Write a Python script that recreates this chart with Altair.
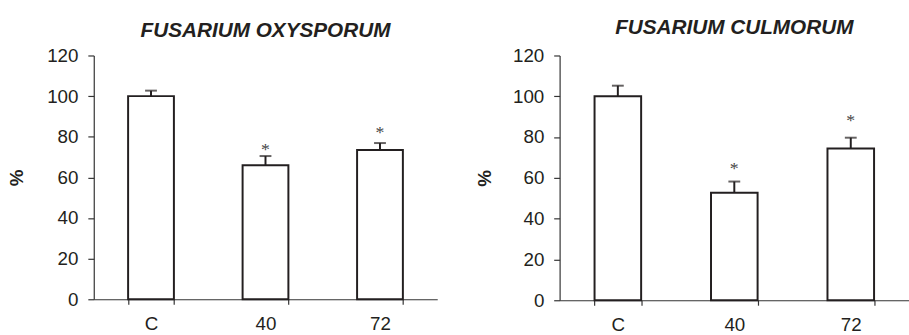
import altair as alt
import pandas as pd

categories = ["C", "40", "72"]

oxy_mean = [100, 66.0, 73.5]
oxy_err = [2.7, 4.5, 3.4]
oxy_star = ["", "*", "*"]
oxy_star_y = [0, 75.3, 83.6]

cul_mean = [100, 52.7, 74.4]
cul_err = [5.2, 5.5, 5.3]
cul_star = ["", "*", "*"]
cul_star_y = [0, 66.2, 89.6]

y_ticks = [0, 20, 40, 60, 80, 100, 120]

INK = "#231f20"
FONT = "Liberation Sans"


def make_df(mean, err, star, star_y):
    return pd.DataFrame({
        "cat": categories,
        "mean": mean,
        "top": [m + e for m, e in zip(mean, err)],
        "star": star,
        "star_y": star_y,
    })


def panel(title, df, width, height, title_pad, title_offset):
    xs = alt.X(
        "cat:N", sort=categories,
        scale=alt.Scale(paddingInner=0.6, paddingOuter=0.3),
        axis=alt.Axis(title=None, labelAngle=0, tickBand="extent", tickSize=5,
                      labelPadding=11, labelFontSize=19, labelFont=FONT,
                      labelColor=INK, domainColor="#333333", tickColor="#333333",
                      domainWidth=1.2, tickWidth=1.2),
    )
    ysc = alt.Scale(domain=[0, 120], nice=False)
    yax = alt.Axis(values=y_ticks, grid=False, title="%", titleFont=FONT,
                   titleFontSize=19, titleFontWeight="bold", titleColor=INK,
                   titlePadding=title_pad, labelFont=FONT, labelFontSize=19,
                   labelColor=INK, labelPadding=10, tickSize=6,
                   domainColor="#333333", tickColor="#333333",
                   domainWidth=1.2, tickWidth=1.2)
    base = alt.Chart(df)
    bars = base.mark_bar(fill="white", stroke=INK, strokeWidth=2).encode(
        x=xs, y=alt.Y("mean:Q", scale=ysc, axis=yax),
    )
    rule = base.mark_rule(color=INK, strokeWidth=2).encode(
        x=xs, y=alt.Y("mean:Q", scale=ysc, axis=yax), y2="top:Q"
    )
    cap = base.mark_tick(color=INK, size=12, thickness=2).encode(
        x=xs, y=alt.Y("top:Q", scale=ysc, axis=yax)
    )
    stars = base.transform_filter("datum.star != ''").mark_text(
        font="Liberation Serif", fontSize=18, color="#444444",
        baseline="alphabetic", dy=9
    ).encode(x=xs, y=alt.Y("star_y:Q", scale=ysc, axis=yax), text="star:N")
    return alt.layer(rule, bars, cap, stars).properties(
        width=width, height=height,
        title=alt.TitleParams(title, font=FONT, fontSize=21, fontWeight="bold",
                              fontStyle="italic", color=INK, anchor="middle",
                              offset=title_offset),
    )


left = panel("FUSARIUM OXYSPORUM", make_df(oxy_mean, oxy_err, oxy_star, oxy_star_y),
             348, 247, 20, 6)
right = panel("FUSARIUM CULMORUM", make_df(cul_mean, cul_err, cul_star, cul_star_y),
              354, 248, 18, 9)

chart = alt.hconcat(left, right, spacing=39).configure_view(stroke=None).properties(
    padding={"left": 8, "top": 15, "right": 0, "bottom": 0}
)

chart.save("out.html", embed_options={"renderer": "svg", "actions": False})
